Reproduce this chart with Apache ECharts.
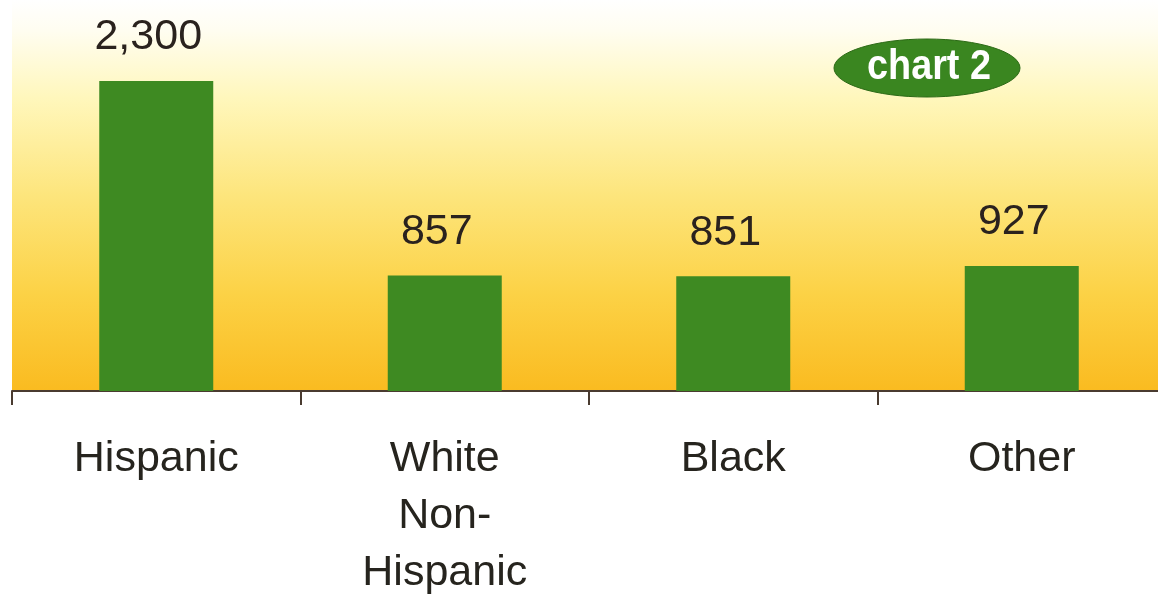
<!DOCTYPE html>
<html>
<head>
<meta charset="utf-8">
<script src="https://cdn.jsdelivr.net/npm/echarts@6/dist/echarts.min.js"></script>
<style>
html,body{margin:0;padding:0;background:#ffffff;}
#main{width:1158px;height:594px;}
</style>
</head>
<body>
<div id="main"></div>
<script>
var categories = ['Hispanic', 'White\nNon-\nHispanic', 'Black', 'Other'];
var values = [2300, 857, 851, 927];
var badgeText = 'chart 2';

var chart = echarts.init(document.getElementById('main'), null, {renderer: 'canvas'});
var option = {
  backgroundColor: '#ffffff',
  animation: false,
  grid: {
    left: 12, top: 0, width: 1154, bottom: 203,
    show: true,
    borderWidth: 0,
    outerBoundsMode: 'none',
    containLabel: false,
    backgroundColor: {
      type: 'linear', x: 0, y: 0, x2: 0, y2: 1,
      colorStops: [
        {offset: 0, color: '#ffffff'},
        {offset: 0.08, color: '#fffdf0'},
        {offset: 0.25, color: '#fff7bc'},
        {offset: 0.5, color: '#fde57c'},
        {offset: 0.75, color: '#fcd246'},
        {offset: 1, color: '#fabb20'}
      ]
    }
  },
  xAxis: {
    type: 'category',
    data: categories,
    axisLine: {show: true, lineStyle: {color: '#4a3b30', width: 2}},
    axisTick: {show: true, length: 14, lineStyle: {color: '#4a3b30', width: 2}},
    axisLabel: {
      color: '#26241e',
      fontFamily: 'Liberation Sans, Arial, sans-serif',
      fontSize: 43,
      lineHeight: 57,
      margin: 40,
      interval: 0
    }
  },
  yAxis: {
    type: 'value',
    min: 0,
    max: 2900,
    show: false,
    splitLine: {show: false}
  },
  series: [{
    type: 'bar',
    data: values,
    barWidth: 114,
    itemStyle: {color: '#3e8a22'},
    label: {
      show: true,
      position: 'top',
      distance: 22,
      offset: [-8, 0],
      color: '#2a221e',
      fontFamily: 'Liberation Sans, Arial, sans-serif',
      fontSize: 43,
      formatter: function (p) { return p.value.toLocaleString('en-US'); }
    }
  }],
  graphic: [
    {
      type: 'ellipse',
      shape: {cx: 927, cy: 68, rx: 93, ry: 29},
      style: {fill: '#3a8620', stroke: '#2c6a16', lineWidth: 1},
      z: 10
    },
    {
      type: 'text',
      x: 929, y: 67,
      scaleX: 0.9,
      style: {
        text: badgeText,
        fill: '#ffffff',
        font: 'bold 42px "Liberation Sans", Arial, sans-serif',
        textAlign: 'center',
        textVerticalAlign: 'middle'
      },
      z: 11
    }
  ]
};
chart.setOption(option);
</script>
</body>
</html>
